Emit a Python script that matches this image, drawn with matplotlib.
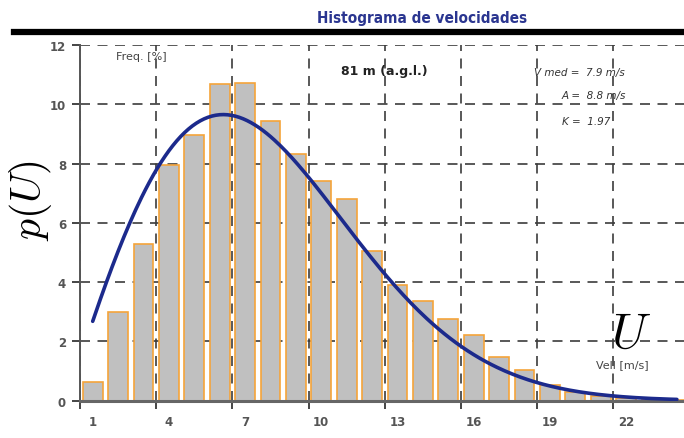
import numpy as np
import matplotlib
matplotlib.use('Agg')
from matplotlib import pyplot as plt
from matplotlib.lines import Line2D

plt.rcParams['mathtext.fontset'] = 'cm'

# wind speed bins (m/s) and measured frequency per bin (%)
speed_bins = list(range(1, 25))
freq_pct = [0.63, 3.0, 5.3, 7.94, 8.95, 10.67, 10.73, 9.45, 8.31, 7.41, 6.8, 5.04,
            3.9, 3.36, 2.77, 2.22, 1.48, 1.05, 0.52, 0.31, 0.17, 0.09, 0.05, 0.03]

# Weibull fit parameters shown on the chart
v_med = 7.9
weib_A = 8.8
weib_K = 1.97
height_label = '81 m (a.g.l.)'

tick_labels = [1, 4, 7, 10, 13, 16, 19, 22]
grid_x = [0.5, 3.5, 6.5, 9.5, 12.5, 15.5, 18.5, 21.5]

bar_face = '#c0c0c0'
bar_edge = '#f5a43a'
curve_col = '#1c2a8c'
text_col = '#444444'

fig = plt.figure(figsize=(6.84, 4.39), dpi=100)
ax = fig.add_axes([80 / 684, 37.3 / 439, 604 / 684, 355.7 / 439])

ax.bar(speed_bins, freq_pct, width=0.78, color=bar_face, edgecolor=bar_edge,
       linewidth=1.2, zorder=2)

# fitted Weibull density in percent
u = np.linspace(1, 24, 300)
pdf = (weib_K / weib_A) * (u / weib_A) ** (weib_K - 1) * np.exp(-(u / weib_A) ** weib_K) * 100
ax.plot(u, pdf, color=curve_col, lw=2.6, zorder=3, solid_capstyle='round')

ax.set_xlim(0.5, 24.28)
ax.set_ylim(0, 12)
ax.set_axisbelow(True)

ax.set_yticks(range(0, 13, 2))
ax.set_xticks(grid_x)
ax.set_xticklabels([])
ax.set_xticks(tick_labels, minor=True)
ax.set_xticklabels([str(t) for t in tick_labels], minor=True)
ax.tick_params(axis='x', which='minor', length=0, pad=10)
ax.tick_params(axis='x', which='major', length=6, width=1.4, color='#444444')
ax.tick_params(axis='y', length=6, width=1.4, color='#444444', pad=4)
for lbl in ax.get_xticklabels(minor=True) + ax.get_yticklabels():
    lbl.set_fontsize(8.5)
    lbl.set_fontweight('bold')
    lbl.set_color('#555555')

ax.grid(True, which='major', color='#3c3c3c', linestyle=(0, (6, 4.5)), linewidth=1.2)

for side in ['top', 'right']:
    ax.spines[side].set_visible(False)
ax.spines['left'].set_color('#555555')
ax.spines['left'].set_linewidth(1.4)
ax.spines['bottom'].set_color('#666666')
ax.spines['bottom'].set_linewidth(2.2)

# titles and annotations
fig.text(422 / 684, 1 - 18 / 439, 'Histograma de velocidades', ha='center', va='center',
         fontsize=11, color='#2a3590', fontweight='bold', family='DejaVu Sans',
         fontstretch='condensed')
fig.add_artist(Line2D([14 / 684, 1.0], [1 - 33 / 439, 1 - 33 / 439], color='black', lw=4.5))

fig.text(31 / 684, 1 - 200 / 439, r'$p(U)$', rotation=90, ha='center', va='center',
         fontsize=30, color='black')
fig.text(631 / 684, 1 - 334 / 439, r'$U$', ha='center', va='center', fontsize=36, color='black')
fig.text(622 / 684, 1 - 365 / 439, 'Vell [m/s]', ha='center', va='center', fontsize=8,
         color=text_col)
fig.text(141 / 684, 1 - 57 / 439, 'Freq. [%]', ha='center', va='center', fontsize=8,
         color=text_col)
fig.text(384 / 684, 1 - 72 / 439, height_label, ha='center', va='center', fontsize=9,
         fontweight='bold', color='#222222')

fig.text(534 / 684, 1 - 73 / 439, 'V med =  %.1f m/s' % v_med, ha='left', va='center',
         fontsize=7.5, style='italic', color='#333333')
fig.text(562 / 684, 1 - 96 / 439, 'A =  %.1f m/s' % weib_A, ha='left', va='center',
         fontsize=7.5, style='italic', color='#333333')
fig.text(562 / 684, 1 - 122 / 439, 'K =  %.2f' % weib_K, ha='left', va='center',
         fontsize=7.5, style='italic', color='#333333')

fig.savefig('out.png', dpi=100)
